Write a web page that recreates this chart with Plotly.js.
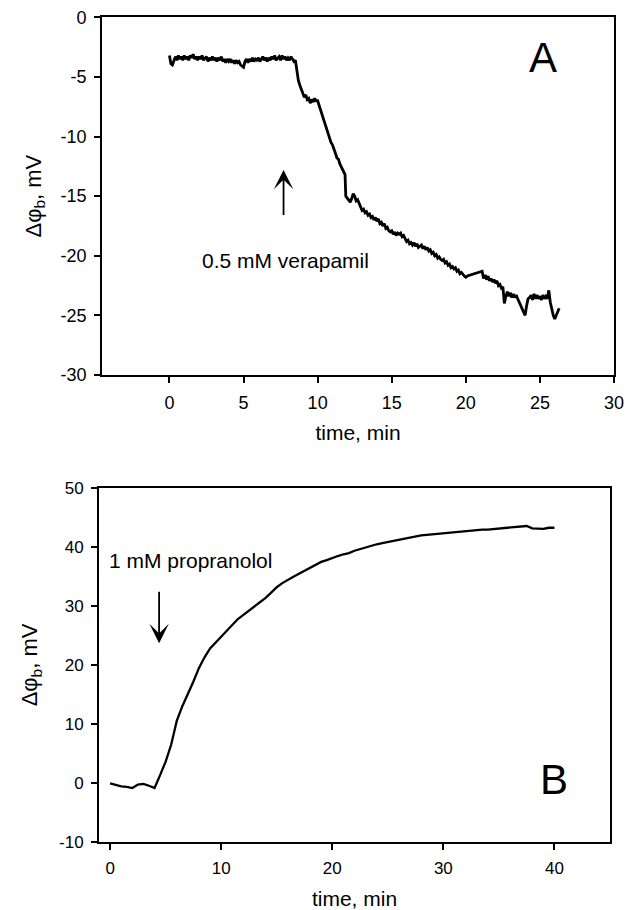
<!DOCTYPE html>
<html>
<head>
<meta charset="utf-8">
<script src="https://cdn.plot.ly/plotly-3.0.1.min.js"></script>
<style>html,body{margin:0;padding:0;background:#fff;}</style>
</head>
<body>
<div id="chart" style="width:640px;height:910px;"></div>
<script>
// Panel A: verapamil (time, min ; potential, mV)
const tA = [0.0,0.1,0.2,0.3,0.4,0.5,0.6,0.7,0.8,0.9,
1.0,1.1,1.2,1.3,1.4,1.5,1.6,1.7,1.8,1.9,
2.0,2.1,2.2,2.3,2.4,2.5,2.6,2.7,2.8,2.9,
3.0,3.1,3.2,3.3,3.4,3.5,3.6,3.7,3.8,3.9,
4.0,4.1,4.2,4.3,4.4,4.5,4.6,4.7,4.8,4.9,
5.0,5.1,5.2,5.3,5.4,5.5,5.6,5.7,5.8,5.9,
6.0,6.1,6.2,6.3,6.4,6.5,6.6,6.7,6.8,6.9,
7.0,7.1,7.2,7.3,7.4,7.5,7.6,7.7,7.8,7.9,
8.0,8.1,8.2,8.3,8.4,8.5,8.6,8.7,8.8,8.9,
9.0,9.1,9.2,9.3,9.4,9.5,9.6,9.7,9.8,9.9,
10.0,10.1,10.2,10.3,10.4,10.5,10.6,10.7,10.8,10.9,
11.0,11.1,11.2,11.3,11.4,11.5,11.6,11.7,11.8,11.85,11.9,
12.0,12.1,12.2,12.3,12.4,12.5,12.6,12.7,12.8,12.9,
13.0,13.1,13.2,13.3,13.4,13.5,13.6,13.7,13.8,13.9,
14.0,14.1,14.2,14.3,14.4,14.5,14.6,14.7,14.8,14.9,
15.0,15.1,15.2,15.3,15.4,15.5,15.6,15.7,15.8,15.9,
16.0,16.1,16.2,16.3,16.4,16.5,16.6,16.7,16.8,16.9,
17.0,17.1,17.2,17.3,17.4,17.5,17.6,17.7,17.8,17.9,
18.0,18.1,18.2,18.3,18.4,18.5,18.6,18.7,18.8,18.9,
19.0,19.1,19.2,19.3,19.4,19.5,19.6,19.7,19.8,19.9,
20.0,20.1,
21.1,21.2,21.3,21.4,21.5,21.6,21.7,21.8,21.9,
22.0,22.1,22.2,22.3,22.4,22.5,22.6,22.7,22.8,22.9,
23.0,23.1,23.2,23.3,23.4,23.5,
24.0,24.1,24.2,24.3,24.4,24.5,24.6,24.7,24.8,24.9,
25.0,25.1,25.2,25.3,25.4,25.5,25.6,25.7,25.8,25.9,
26.0,26.1,26.2,26.3];
const vA = [-3.2,-3.9,-4.0,-3.6,-3.3,-3.6,-3.2,-3.5,-3.3,-3.6,
-3.2,-3.5,-3.3,-3.6,-3.2,-3.4,-3.1,-3.5,-3.3,-3.6,
-3.3,-3.5,-3.2,-3.6,-3.4,-3.3,-3.7,-3.4,-3.6,-3.3,
-3.6,-3.4,-3.7,-3.4,-3.6,-3.3,-3.7,-3.5,-3.8,-3.5,
-3.7,-3.5,-3.8,-3.6,-3.9,-3.6,-3.8,-3.7,-4.0,-4.1,
-4.2,-3.7,-3.5,-3.8,-3.5,-3.7,-3.4,-3.7,-3.5,-3.6,
-3.4,-3.7,-3.5,-3.3,-3.6,-3.4,-3.7,-3.4,-3.6,-3.3,
-3.5,-3.2,-3.6,-3.4,-3.3,-3.6,-3.2,-3.5,-3.3,-3.6,
-3.4,-3.6,-3.3,-3.5,-3.7,-3.6,-4.6,-5.3,-5.7,-6.0,
-6.3,-6.7,-6.5,-6.9,-6.8,-7.2,-6.9,-7.1,-6.8,-7.0,
-7.0,-7.4,-7.8,-8.1,-8.4,-8.9,-9.3,-9.8,-10.1,-10.5,
-10.7,-11.0,-11.4,-11.8,-11.9,-12.3,-12.6,-12.8,-13.1,-13.2,-15.0,
-15.2,-15.3,-15.5,-15.2,-14.8,-15.0,-15.4,-15.3,-15.7,-15.9,
-16.2,-16.1,-16.4,-16.3,-16.6,-16.5,-16.8,-16.7,-17.0,-16.8,
-17.1,-16.9,-17.3,-17.2,-17.5,-17.3,-17.7,-17.6,-17.9,-18.0,
-17.9,-18.2,-18.0,-18.3,-18.1,-18.2,-18.1,-18.4,-18.3,-18.6,
-18.8,-18.7,-19.0,-18.9,-19.1,-18.9,-19.2,-19.0,-19.3,-19.2,
-19.1,-19.4,-19.2,-19.5,-19.3,-19.6,-19.5,-19.8,-19.7,-20.0,
-19.9,-20.2,-20.1,-20.3,-20.4,-20.3,-20.6,-20.5,-20.8,-20.7,
-21.0,-20.9,-21.1,-21.0,-21.3,-21.2,-21.5,-21.4,-21.6,-21.7,
-21.8,-21.7,
-21.3,-21.9,-21.6,-22.0,-21.7,-22.1,-21.9,-22.2,-22.0,
-22.3,-22.1,-22.5,-22.4,-22.7,-22.6,-24.0,-23.4,-23.0,-23.4,
-23.1,-23.5,-23.2,-23.5,-23.3,-23.6,
-25.0,-24.2,-23.6,-23.5,-23.3,-23.7,-23.2,-23.6,-23.3,-23.6,
-23.4,-23.7,-23.3,-23.6,-23.4,-23.6,-22.9,-23.9,-24.6,-25.0,
-25.3,-25.0,-24.7,-24.4];

// Panel B: propranolol
const tB = [0,0.5,1,1.5,2,2.5,3,3.5,4,4.5,5,5.5,6,6.5,7,7.5,8,8.5,9,9.5,
10,10.5,11,11.5,12,12.5,13,13.5,14,14.5,15,15.5,16,16.5,17,17.5,18,18.5,19,19.5,
20,20.5,21,21.5,22,22.5,23,23.5,24,24.5,25,25.5,26,26.5,27,27.5,28,28.5,29,29.5,
30,30.5,31,31.5,32,32.5,33,33.5,34,34.5,35,35.5,36,36.5,37,37.5,38,38.5,39,39.5,40];
const vB = [-0.1,-0.4,-0.6,-0.7,-0.9,-0.3,-0.2,-0.5,-0.9,1.3,3.6,6.5,10.5,13.0,15.0,17.2,19.5,21.3,22.8,23.8,
24.8,25.8,26.8,27.8,28.5,29.2,29.9,30.6,31.4,32.3,33.2,33.9,34.5,35.0,35.5,36.0,36.5,37.0,37.5,37.8,
38.2,38.5,38.8,39.0,39.4,39.7,40.0,40.2,40.5,40.7,40.9,41.1,41.3,41.5,41.7,41.8,42.0,42.1,42.2,42.3,
42.4,42.5,42.6,42.6,42.8,42.8,42.9,43.0,43.0,43.1,43.2,43.2,43.4,43.4,43.6,43.6,43.2,43.2,43.1,43.3,43.3];

// Tick labels
const xTicksA = [0, 5, 10, 15, 20, 25, 30];
const yTicksA = [0, -5, -10, -15, -20, -25, -30];
const yTickTextA = ["0", "-5", "-10", "-15", "-20", "-25", "-30"];
const xTicksB = [0, 10, 20, 30, 40];
const yTicksB = [50, 40, 30, 20, 10, 0, -10];
const yTickTextB = ["50", "40", "30", "20", "10", "0", "-10"];

const labelA = "0.5 mM verapamil";
const labelB = "1 mM propranolol";
const yTitle = "Δφ<sub>b</sub>, mV";
const xTitle = "time, min";

const FONT = "Liberation Sans, Arial, Helvetica, sans-serif";

const traces = [
  {x: tA, y: vA, xaxis: 'x', yaxis: 'y', mode: 'lines', line: {color: '#000', width: 2.8}, hoverinfo: 'skip'},
  {x: tB, y: vB, xaxis: 'x2', yaxis: 'y2', mode: 'lines', line: {color: '#000', width: 2.3}, hoverinfo: 'skip'}
];

function axisBase(domain, range, anchor, size, tv, tt) {
  return {domain: domain, range: range, anchor: anchor,
    tickmode: 'array', tickvals: tv, ticktext: tt,
    showline: true, mirror: true, linecolor: '#000', linewidth: 2,
    ticks: 'outside', ticklen: 6, tickwidth: 2, tickcolor: '#000',
    showgrid: false, zeroline: false, automargin: false,
    tickfont: {family: FONT, size: size, color: '#000'}};
}
function xax(domain, range, anchor, size, tv, tt, standoff) {
  const a = axisBase(domain, range, anchor, size, tv, tt);
  a.ticklabelstandoff = 4;
  a.title = {text: xTitle, font: {family: FONT, size: 21, color: '#000'}, standoff: standoff};
  return a;
}
function yax(domain, range, anchor, size, tv, tt, standoff) {
  const a = axisBase(domain, range, anchor, size, tv, tt);
  a.ticklabelstandoff = 4;
  a.title = {text: yTitle, font: {family: FONT, size: 22, color: '#000'}, standoff: standoff};
  return a;
}

const layout = {
  width: 640, height: 910,
  margin: {l: 0, r: 0, t: 0, b: 0},
  paper_bgcolor: '#fff', plot_bgcolor: '#fff',
  showlegend: false,
  font: {family: FONT, color: '#000'},
  xaxis: xax([0.1594, 0.9594], [-4.55, 30], 'y', 18, xTicksA, xTicksA.map(String), 14),
  yaxis: yax([0.5879, 0.981], [-30, 0], 'x', 18, yTicksA, yTickTextA, 13),
  xaxis2: xax([0.1547, 0.9531], [-1, 45], 'y2', 17, xTicksB, xTicksB.map(String), 16),
  yaxis2: yax([0.0751, 0.4634], [-10, 50], 'x2', 17, yTicksB, yTickTextB, 15),
  annotations: [
    {xref: 'x', yref: 'y', x: 7.70, y: -12.8, ax: 7.70, ay: -16.7, axref: 'x', ayref: 'y',
     text: '', showarrow: true, arrowhead: 3, arrowsize: 1.8, arrowwidth: 1.8, arrowcolor: '#000'},
    {xref: 'x', yref: 'y', x: 2.03, y: -20.4, text: labelA, showarrow: false, xanchor: 'left',
     font: {family: FONT, size: 21, color: '#000'}},
    {xref: 'x', yref: 'y', x: 25.18, y: -3.4, text: 'A', showarrow: false,
     font: {family: FONT, size: 42, color: '#000'}},
    {xref: 'x2', yref: 'y2', x: 4.41, y: 23.7, ax: 4.41, ay: 32.7, axref: 'x2', ayref: 'y2',
     text: '', showarrow: true, arrowhead: 3, arrowsize: 1.8, arrowwidth: 1.8, arrowcolor: '#000'},
    {xref: 'x2', yref: 'y2', x: -0.24, y: 37.8, text: labelB, showarrow: false, xanchor: 'left',
     font: {family: FONT, size: 21, color: '#000'}},
    {xref: 'x2', yref: 'y2', x: 40.0, y: 0.5, text: 'B', showarrow: false,
     font: {family: FONT, size: 42, color: '#000'}}
  ]
};

Plotly.newPlot('chart', traces, layout, {staticPlot: true, displayModeBar: false});
</script>
</body>
</html>
